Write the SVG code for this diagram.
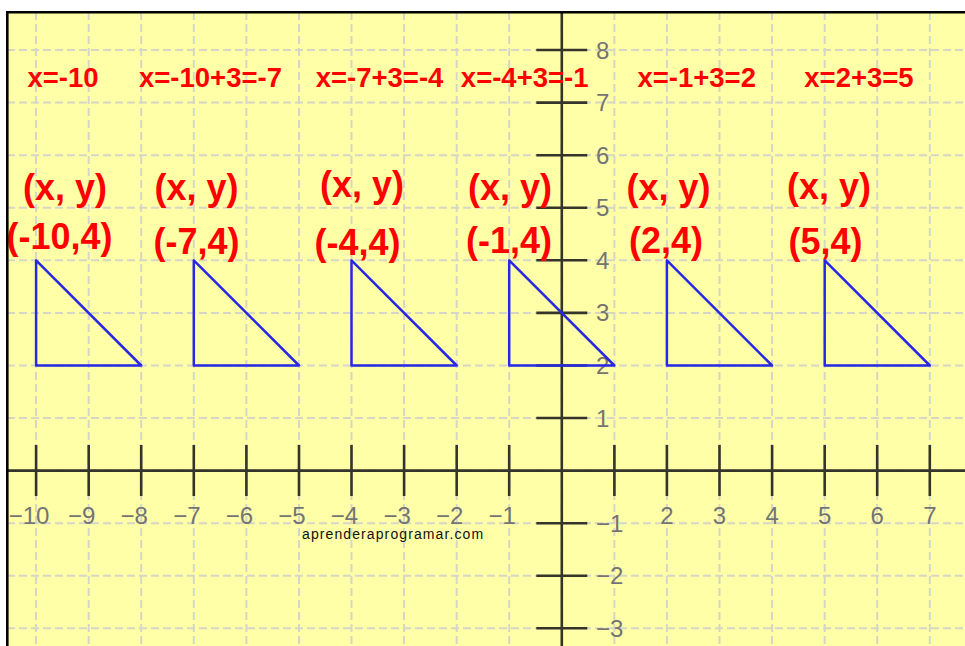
<svg xmlns="http://www.w3.org/2000/svg" width="965" height="646" viewBox="0 0 965 646">
<style>
.grid{fill:none;stroke:#d6d6c6;stroke-width:2;stroke-dasharray:8 4}
.axis{fill:none;stroke:#34342a;stroke-width:2.6}
.tick{fill:none;stroke:#34342a;stroke-width:2.6}
.lbl{font-family:"Liberation Sans",Arial,sans-serif;font-size:24px;fill:#747474}
.eq{font-family:"Liberation Sans",Arial,sans-serif;font-size:27.5px;font-weight:bold;fill:#ff0000;text-anchor:middle}
.pt{font-family:"Liberation Sans",Arial,sans-serif;font-size:36px;font-weight:bold;fill:#ff0000;text-anchor:middle}
.tri{fill:none;stroke:#2828e4;stroke-width:2.5;stroke-linejoin:round}
.wm{font-family:"Liberation Sans",Arial,sans-serif;font-size:14px;letter-spacing:1.1px;fill:#111}
</style>
<rect x="0" y="0" width="965" height="646" fill="#ffffff"/>
<rect id="background" x="7" y="12" width="958" height="634" fill="#ffffa8"/>
<g id="grid">
<path class="grid" d="M36.1,12V646M88.7,12V646M141.2,12V646M193.8,12V646M246.4,12V646M299,12V646M351.5,12V646M404.1,12V646M456.7,12V646M509.2,12V646M561.8,12V646M614.4,12V646M666.9,12V646M719.5,12V646M772.1,12V646M824.7,12V646M877.2,12V646M929.8,12V646"/>
<path class="grid" d="M7,50H965M7,102.6H965M7,155.2H965M7,207.8H965M7,260.3H965M7,312.9H965M7,365.5H965M7,418H965M7,470.6H965M7,523.2H965M7,575.7H965M7,628.3H965"/>
</g>
<g id="axes">
<path class="axis" d="M7,470.6H965M561.8,12V646"/>
<path class="tick" d="M36.1,445.1V496.1M88.7,445.1V496.1M141.2,445.1V496.1M193.8,445.1V496.1M246.4,445.1V496.1M299,445.1V496.1M351.5,445.1V496.1M404.1,445.1V496.1M456.7,445.1V496.1M509.2,445.1V496.1M614.4,445.1V496.1M666.9,445.1V496.1M719.5,445.1V496.1M772.1,445.1V496.1M824.7,445.1V496.1M877.2,445.1V496.1M929.8,445.1V496.1"/>
<path class="tick" d="M536.3,50H587.3M536.3,102.6H587.3M536.3,155.2H587.3M536.3,207.8H587.3M536.3,260.3H587.3M536.3,312.9H587.3M536.3,365.5H587.3M536.3,418H587.3M536.3,523.2H587.3M536.3,575.7H587.3M536.3,628.3H587.3"/>
</g>
<g id="x-labels" class="lbl" text-anchor="end">
<text x="49.4" y="523.5">−10</text>
<text x="95.4" y="523.5">−9</text>
<text x="147.9" y="523.5">−8</text>
<text x="200.5" y="523.5">−7</text>
<text x="253.1" y="523.5">−6</text>
<text x="305.7" y="523.5">−5</text>
<text x="358.2" y="523.5">−4</text>
<text x="410.8" y="523.5">−3</text>
<text x="463.4" y="523.5">−2</text>
<text x="515.9" y="523.5">−1</text>
<text x="673.6" y="523.5">2</text>
<text x="726.2" y="523.5">3</text>
<text x="778.8" y="523.5">4</text>
<text x="831.4" y="523.5">5</text>
<text x="883.9" y="523.5">6</text>
<text x="936.5" y="523.5">7</text>
</g>
<g id="y-labels" class="lbl">
<text x="596" y="58.5">8</text>
<text x="596" y="111.1">7</text>
<text x="596" y="163.7">6</text>
<text x="596" y="216.3">5</text>
<text x="596" y="268.8">4</text>
<text x="596" y="321.4">3</text>
<text x="596" y="374">2</text>
<text x="596" y="426.5">1</text>
<text x="596" y="531.7">−1</text>
<text x="596" y="584.2">−2</text>
<text x="596" y="636.8">−3</text>
</g>
<text id="watermark" class="wm" x="302" y="539">aprenderaprogramar.com</text>
<g id="equations" class="eq">
<text x="63" y="87">x=-10</text>
<text x="210.5" y="87">x=-10+3=-7</text>
<text x="379.5" y="87">x=-7+3=-4</text>
<text x="524.7" y="87">x=-4+3=-1</text>
<text x="696.7" y="87">x=-1+3=2</text>
<text x="859" y="87">x=2+3=5</text>
</g>
<g id="triangle-1">
<text class="pt" x="65" y="200">(x, y)</text>
<text class="pt" x="59.5" y="249">(-10,4)</text>
<polygon class="tri" points="36.1,260.3 36.1,365.5 141.2,365.5"/>
</g>
<g id="triangle-2">
<text class="pt" x="196.5" y="200">(x, y)</text>
<text class="pt" x="196.5" y="254">(-7,4)</text>
<polygon class="tri" points="193.8,260.3 193.8,365.5 299,365.5"/>
</g>
<g id="triangle-3">
<text class="pt" x="362" y="197">(x, y)</text>
<text class="pt" x="357.5" y="255">(-4,4)</text>
<polygon class="tri" points="351.5,260.3 351.5,365.5 456.7,365.5"/>
</g>
<g id="triangle-4">
<text class="pt" x="510" y="200">(x, y)</text>
<text class="pt" x="509" y="253">(-1,4)</text>
<polygon class="tri" points="509.2,260.3 509.2,365.5 614.4,365.5"/>
</g>
<g id="triangle-5">
<text class="pt" x="668.5" y="200">(x, y)</text>
<text class="pt" x="666" y="253">(2,4)</text>
<polygon class="tri" points="666.9,260.3 666.9,365.5 772.1,365.5"/>
</g>
<g id="triangle-6">
<text class="pt" x="829" y="199">(x, y)</text>
<text class="pt" x="825.5" y="254">(5,4)</text>
<polygon class="tri" points="824.7,260.3 824.7,365.5 929.8,365.5"/>
</g>
<g id="connectors"/>
<path id="frame" d="M7.3,646V12.2H965" fill="none" stroke="#000" stroke-width="2.6"/>
</svg>
